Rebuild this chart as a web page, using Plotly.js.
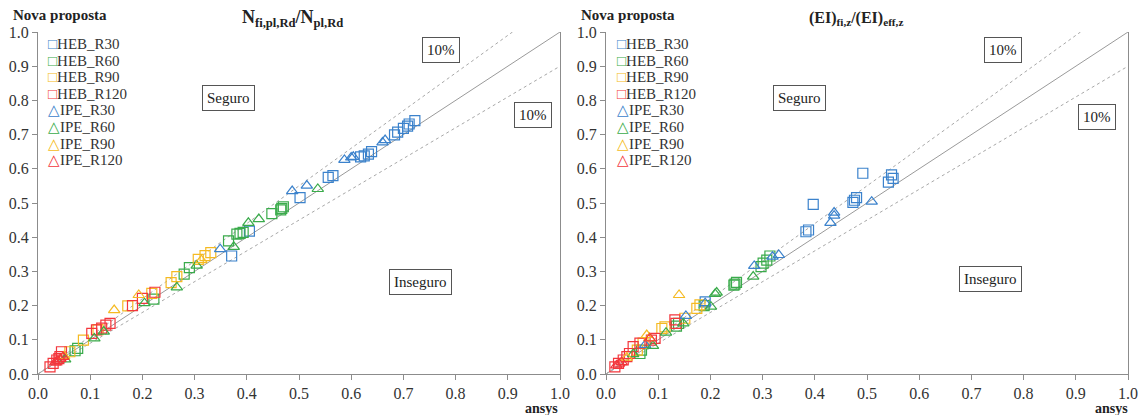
<!DOCTYPE html>
<html>
<head>
<meta charset="utf-8">
<script src="https://cdn.plot.ly/plotly-3.0.1.min.js"></script>
<style>html,body{margin:0;padding:0;background:#fff}#chart{width:1145px;height:415px}</style>
</head>
<body>
<div id="chart"></div>
<script>
// ---------- data ----------
const seriesNames = ["HEB_R30","HEB_R60","HEB_R90","HEB_R120","IPE_R30","IPE_R60","IPE_R90","IPE_R120"];
const tickVals = [0,0.1,0.2,0.3,0.4,0.5,0.6,0.7,0.8,0.9,1.0];
const tickText = ["0.0","0.1","0.2","0.3","0.4","0.5","0.6","0.7","0.8","0.9","1.0"];
const refX = [0, 1];
const refY = [0, 1];
const upperX = [0, 0.909];
const upperY = [0, 1.0];
const lowerX = [0, 1];
const lowerY = [0, 0.9];

// Left panel: N_fi,pl,Rd / N_pl,Rd
const N_HEB_R30_x = [0.722,0.711,0.708,0.700,0.689,0.683,0.639,0.633,0.625,0.618,0.565,0.556,0.502,0.405,0.371];
const N_HEB_R30_y = [0.741,0.731,0.725,0.718,0.707,0.699,0.650,0.643,0.638,0.635,0.580,0.575,0.516,0.418,0.345];
const N_HEB_R60_x = [0.470,0.467,0.465,0.448,0.393,0.387,0.381,0.365,0.290,0.280,0.222,0.076,0.071];
const N_HEB_R60_y = [0.489,0.484,0.480,0.469,0.414,0.411,0.409,0.389,0.311,0.292,0.219,0.075,0.068];
const N_HEB_R90_x = [0.331,0.320,0.307,0.266,0.255,0.218,0.172,0.115,0.087,0.061];
const N_HEB_R90_y = [0.355,0.346,0.335,0.285,0.267,0.236,0.199,0.130,0.099,0.065];
const N_HEB_R120_x = [0.224,0.200,0.181,0.138,0.130,0.122,0.112,0.103,0.045,0.042,0.036,0.029,0.023,0.040];
const N_HEB_R120_y = [0.239,0.221,0.200,0.148,0.143,0.134,0.129,0.119,0.065,0.051,0.041,0.031,0.021,0.045];
const N_IPE_R30_x = [0.665,0.660,0.604,0.600,0.587,0.515,0.487,0.349];
const N_IPE_R30_y = [0.684,0.677,0.635,0.633,0.626,0.551,0.535,0.365];
const N_IPE_R60_x = [0.536,0.423,0.403,0.375,0.304,0.266,0.204,0.126,0.108,0.052];
const N_IPE_R60_y = [0.541,0.453,0.442,0.372,0.317,0.253,0.207,0.124,0.104,0.043];
const N_IPE_R90_x = [0.313,0.193,0.146,0.050];
const N_IPE_R90_y = [0.333,0.231,0.187,0.052];
const N_IPE_R120_x = [0.048,0.043,0.038,0.033];
const N_IPE_R120_y = [0.050,0.044,0.039,0.034];

// Right panel: (EI)fi,z / (EI)eff,z
const EI_HEB_R30_x = [0.492,0.547,0.550,0.541,0.397,0.480,0.476,0.473,0.388,0.383,0.190];
const EI_HEB_R30_y = [0.587,0.582,0.572,0.561,0.496,0.516,0.508,0.502,0.421,0.416,0.211];
const EI_HEB_R60_x = [0.314,0.308,0.301,0.297,0.250,0.247,0.245,0.188,0.139,0.135,0.068,0.065];
const EI_HEB_R60_y = [0.345,0.333,0.324,0.314,0.268,0.263,0.260,0.200,0.148,0.140,0.070,0.060];
const EI_HEB_R90_x = [0.180,0.174,0.151,0.113,0.107,0.071,0.060];
const EI_HEB_R90_y = [0.202,0.192,0.163,0.138,0.133,0.090,0.070];
const EI_HEB_R120_x = [0.132,0.134,0.094,0.087,0.052,0.065,0.040,0.033,0.024,0.017,0.045];
const EI_HEB_R120_y = [0.158,0.148,0.104,0.099,0.080,0.090,0.051,0.041,0.031,0.021,0.060];
const EI_IPE_R30_x = [0.509,0.437,0.437,0.430,0.331,0.319,0.284,0.190,0.153,0.075];
const EI_IPE_R30_y = [0.504,0.472,0.463,0.442,0.348,0.343,0.316,0.207,0.170,0.085];
const EI_IPE_R60_x = [0.282,0.212,0.209,0.201,0.148,0.115,0.052,0.090];
const EI_IPE_R60_y = [0.285,0.238,0.234,0.197,0.148,0.121,0.058,0.082];
const EI_IPE_R90_x = [0.140,0.078,0.083,0.040];
const EI_IPE_R90_y = [0.231,0.114,0.105,0.048];
const EI_IPE_R120_x = [0.084,0.030,0.025,0.020];
const EI_IPE_R120_y = [0.104,0.035,0.030,0.025];

// ---------- styling ----------
const colors = {R30:"#3b82cc", R60:"#3aab4b", R90:"#f5ba22", R120:"#f3363c"};
const FONT = '"Liberation Serif", "Times New Roman", serif';
const W = 1145, H = 415;
const px = v => v / W;
const py = v => 1 - v / H;

const leftSets = {
  HEB_R30:[N_HEB_R30_x,N_HEB_R30_y], HEB_R60:[N_HEB_R60_x,N_HEB_R60_y],
  HEB_R90:[N_HEB_R90_x,N_HEB_R90_y], HEB_R120:[N_HEB_R120_x,N_HEB_R120_y],
  IPE_R30:[N_IPE_R30_x,N_IPE_R30_y], IPE_R60:[N_IPE_R60_x,N_IPE_R60_y],
  IPE_R90:[N_IPE_R90_x,N_IPE_R90_y], IPE_R120:[N_IPE_R120_x,N_IPE_R120_y]
};
const rightSets = {
  HEB_R30:[EI_HEB_R30_x,EI_HEB_R30_y], HEB_R60:[EI_HEB_R60_x,EI_HEB_R60_y],
  HEB_R90:[EI_HEB_R90_x,EI_HEB_R90_y], HEB_R120:[EI_HEB_R120_x,EI_HEB_R120_y],
  IPE_R30:[EI_IPE_R30_x,EI_IPE_R30_y], IPE_R60:[EI_IPE_R60_x,EI_IPE_R60_y],
  IPE_R90:[EI_IPE_R90_x,EI_IPE_R90_y], IPE_R120:[EI_IPE_R120_x,EI_IPE_R120_y]
};

const traces = [];
function addRefLines(xa, ya) {
  traces.push({x:refX, y:refY, xaxis:xa, yaxis:ya, mode:"lines", showlegend:false, hoverinfo:"skip",
    line:{color:"#9a9a9a", width:1}});
  traces.push({x:upperX, y:upperY, xaxis:xa, yaxis:ya, mode:"lines", showlegend:false, hoverinfo:"skip",
    line:{color:"#a8a8a8", width:1, dash:"dot"}});
  traces.push({x:lowerX, y:lowerY, xaxis:xa, yaxis:ya, mode:"lines", showlegend:false, hoverinfo:"skip",
    line:{color:"#a8a8a8", width:1, dash:"dot"}});
}
function addSeries(sets, xa, ya) {
  seriesNames.forEach(n => {
    const r = n.split("_")[1];
    const isSq = n.startsWith("HEB");
    traces.push({
      x: sets[n][0], y: sets[n][1], xaxis: xa, yaxis: ya, name: n, showlegend: false,
      mode: "markers", type: "scatter",
      marker: {symbol: isSq ? "square-open" : "triangle-up-open", size: 10,
        color: colors[r], line: {width: 1.2, color: colors[r]}}
    });
  });
}
addRefLines("x", "y");
addSeries(leftSets, "x", "y");
addRefLines("x2", "y2");
addSeries(rightSets, "x2", "y2");

const axisBase = {
  range:[0,1], tickvals:tickVals, ticktext:tickText, showgrid:false, zeroline:false,
  showline:true, linecolor:"#8c8c8c", linewidth:1, ticks:"outside", ticklen:5, tickcolor:"#8c8c8c",
  tickfont:{family:FONT, size:16, color:"#333"}
};
const yDom = [41/H, 383/H];

function box(text, x, y) {
  return {text:text, x:px(x), y:py(y), xref:"paper", yref:"paper", showarrow:false,
    xanchor:"center", yanchor:"middle",
    font:{family:FONT, size:15, color:"#222"}, bordercolor:"#555", borderwidth:1, borderpad:4, bgcolor:"#fff"};
}
function plain(text, x, y, size) {
  return {text:text, x:px(x), y:py(y), xref:"paper", yref:"paper", showarrow:false,
    xanchor:"center", yanchor:"middle",
    font:{family:FONT, size:size, color:"#222"}};
}
// legend drawn as text entries (symbol + series name)
function legendEntries(x0, y0) {
  return seriesNames.map((n, i) => {
    const r = n.split("_")[1];
    const sym = n.startsWith("HEB") ? "\u25A1" : "\u25B3";
    return {text:'<span style="color:' + colors[r] + '">' + sym + '</span>' + n,
      x:px(x0), y:py(y0 + i * 16.6), xref:"paper", yref:"paper", showarrow:false,
      xanchor:"left", yanchor:"middle", font:{family:FONT, size:15, color:"#333"}};
  });
}

const layout = {
  width:W, height:H, margin:{l:0,r:0,t:0,b:0}, paper_bgcolor:"#fff", plot_bgcolor:"#fff",
  font:{family:FONT},
  xaxis: Object.assign({}, axisBase, {domain:[38/W, 560/W], anchor:"y"}),
  yaxis: Object.assign({}, axisBase, {domain:yDom, anchor:"x", mirror:true}),
  xaxis2: Object.assign({}, axisBase, {domain:[606/W, 1128/W], anchor:"y2"}),
  yaxis2: Object.assign({}, axisBase, {domain:yDom, anchor:"x2", mirror:true}),
  showlegend:false,
  annotations: [
    plain("<b>Nova proposta</b>", 60, 15, 15),
    plain("<b>N<sub>fi,pl,Rd</sub>/N<sub>pl,Rd</sub></b>", 292, 18, 18),
    plain("<b>ansys</b>", 541, 408, 14),
    box("10%", 441, 50), box("Seguro", 228, 98), box("10%", 533, 115), box("Inseguro", 420, 282),
    plain("<b>Nova proposta</b>", 628, 15, 15),
    plain("<b>(EI)<sub>fi,z</sub>/(EI)<sub>eff,z</sub></b>", 856, 18, 16),
    plain("<b>ansys</b>", 1111, 408, 14),
    box("10%", 1003, 50), box("Seguro", 799, 98), box("10%", 1097, 117), box("Inseguro", 990, 279)
  ].concat(legendEntries(46, 44), legendEntries(615, 44))
};

Plotly.newPlot("chart", traces, layout, {displayModeBar:false, staticPlot:true});
</script>
</body>
</html>
